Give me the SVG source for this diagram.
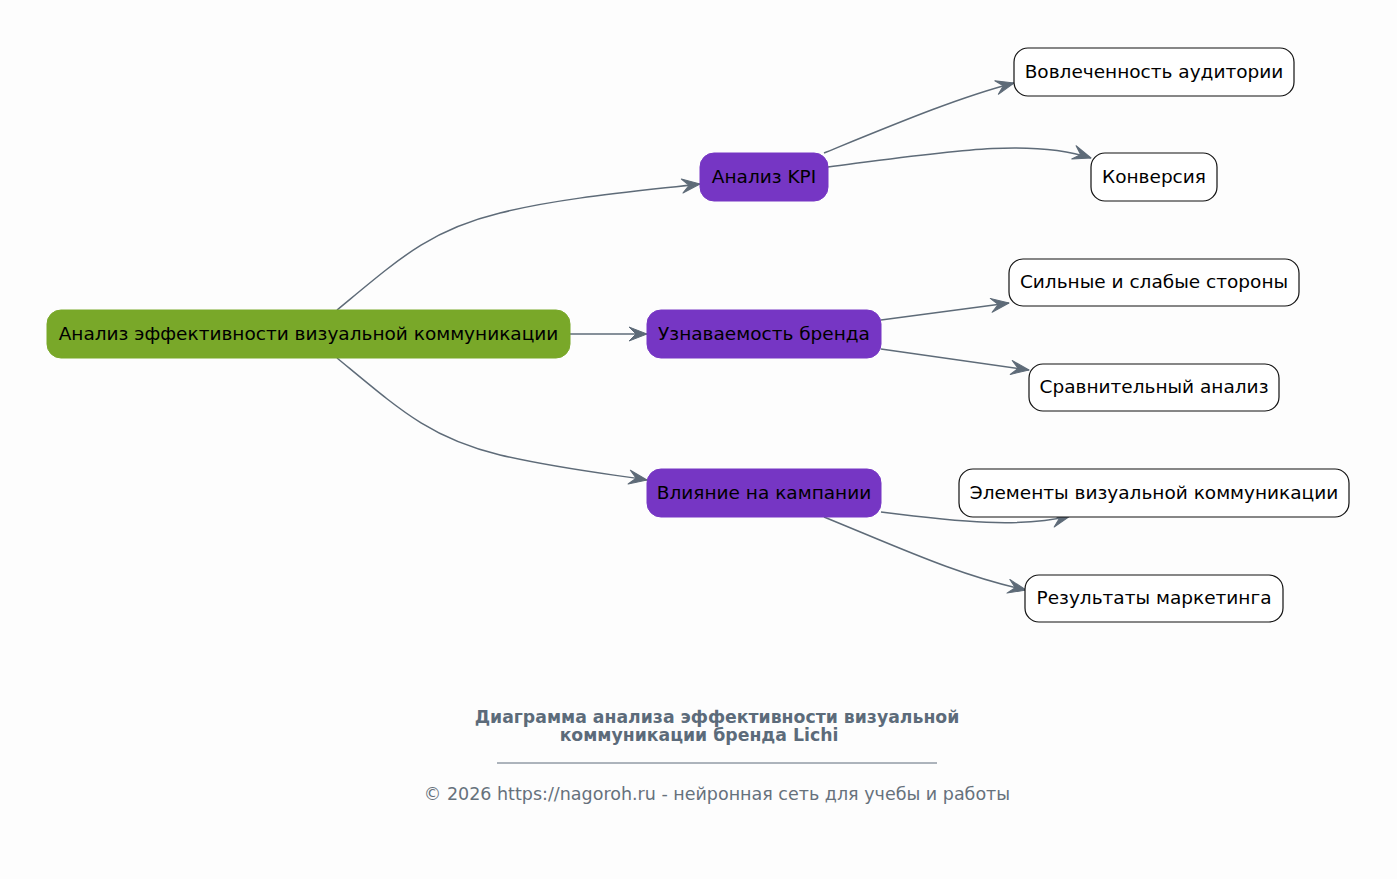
<svg xmlns="http://www.w3.org/2000/svg" width="1397" height="879" viewBox="0 0 1397 879">
<defs>
<style>
.bg{fill:#fdfdfd}
.root{fill:#79a829;stroke:#79a829}
.mid{fill:#7636c4;stroke:#7636c4}
.leaf{fill:#ffffff;stroke:#111111;stroke-width:1.2}
.t{font-family:"DejaVu Sans",sans-serif;font-size:18.5px;fill:#000;text-anchor:middle;dominant-baseline:central}
.e{fill:none;stroke:#5e6b78;stroke-width:1.5;marker-end:url(#arr)}
.title{font-family:"DejaVu Sans",sans-serif;font-size:17.3px;font-weight:bold;fill:#5c6b7a;text-anchor:middle}
.copy{font-family:"DejaVu Sans",sans-serif;font-size:17.5px;fill:#66717c;text-anchor:middle}
</style>
<marker id="arr" viewBox="0 0 20 16" refX="19" refY="8" markerWidth="20" markerHeight="16" markerUnits="userSpaceOnUse" orient="auto">
<path d="M1,1 L19,8 L1,15 L8,8 z" fill="#5e6b78" stroke="#5e6b78" stroke-width="1" stroke-linejoin="round"/>
</marker>
</defs>
<rect class="bg" x="0" y="0" width="1397" height="879"/>
<g id="connectors">
<path class="e" d="M337,310 C400,258 430,230 500,213 C560,198 630,192 700,184"/>
<path class="e" d="M570,334 L647,334"/>
<path class="e" d="M337,358 C400,410 430,438 500,455 C560,469 610,474 647,480"/>
<path class="e" d="M824,153 C900,122 960,97 1014,83"/>
<path class="e" d="M828,167 C950,151 1030,138 1091,158"/>
<path class="e" d="M881,320 L1009,303"/>
<path class="e" d="M881,349 L1029,370"/>
<path class="e" d="M881,512 C960,522 1020,528 1070,516"/>
<path class="e" d="M824,517 C900,548 960,576 1026,590"/>
</g>
<g id="root"><rect class="root" x="47" y="310" width="523" height="48" rx="14"/><text class="t" x="308.5" y="333">Анализ эффективности визуальной коммуникации</text></g>
<g id="kpi"><rect class="mid" x="700" y="153" width="128" height="48" rx="14"/><text class="t" x="764" y="176">Анализ KPI</text></g>
<g id="brand"><rect class="mid" x="647" y="310" width="234" height="48" rx="14"/><text class="t" x="764" y="333">Узнаваемость бренда</text></g>
<g id="campaign"><rect class="mid" x="647" y="469" width="234" height="48" rx="14"/><text class="t" x="764" y="492">Влияние на кампании</text></g>
<g id="engagement"><rect class="leaf" x="1014" y="48" width="280" height="48" rx="14"/><text class="t" x="1154" y="71">Вовлеченность аудитории</text></g>
<g id="conversion"><rect class="leaf" x="1091" y="153" width="126" height="48" rx="14"/><text class="t" x="1154" y="176">Конверсия</text></g>
<g id="swot"><rect class="leaf" x="1009" y="259" width="290" height="47" rx="14"/><text class="t" x="1154" y="281.5">Сильные и слабые стороны</text></g>
<g id="compare"><rect class="leaf" x="1029" y="364" width="250" height="47" rx="14"/><text class="t" x="1154" y="386.5">Сравнительный анализ</text></g>
<g id="elements"><rect class="leaf" x="959" y="469" width="390" height="48" rx="14"/><text class="t" x="1154" y="492">Элементы визуальной коммуникации</text></g>
<g id="results"><rect class="leaf" x="1025" y="575" width="258" height="47" rx="14"/><text class="t" x="1154" y="597.5">Результаты маркетинга</text></g>
<g id="footer">
<text class="title" x="717" y="723">Диаграмма анализа эффективности визуальной</text>
<text class="title" x="699" y="741">коммуникации бренда Lichi</text>
<line x1="497" y1="763" x2="937" y2="763" stroke="#5c6b7a" stroke-width="1"/>
<text class="copy" x="717" y="800">© 2026 https://nagoroh.ru - нейронная сеть для учебы и работы</text>
</g>
</svg>
